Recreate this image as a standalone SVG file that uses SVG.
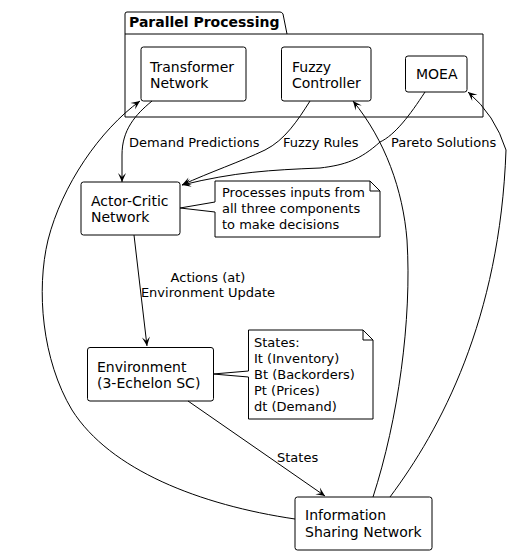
<svg xmlns="http://www.w3.org/2000/svg" width="514" height="555" viewBox="0 0 514 555">
<defs>
<marker id="arr" viewBox="-10 -5 11 10" refX="0" refY="0" markerWidth="11" markerHeight="10" markerUnits="userSpaceOnUse" orient="auto">
<path d="M0,0 L-9,-4 L-5,0 L-9,4 Z" fill="#000"/>
</marker>
<style>
.box{fill:#fff;stroke:#000;stroke-width:1}
.t{font-family:"DejaVu Sans",Verdana,sans-serif;font-size:14px;fill:#000}
.n{font-family:"DejaVu Sans",Verdana,sans-serif;font-size:13px;fill:#000}
.l{font-family:"DejaVu Sans",Verdana,sans-serif;font-size:13px;fill:#000}
.e{fill:none;stroke:#000;stroke-width:1}
</style>
</defs>
<rect width="514" height="555" fill="#fff"/>
<g id="package">
<path class="box" d="M127,12 L280,12 Q282,12 283,14 L287,34 L483,34 L483,117 L125,117 L125,14 Q125,12 127,12 Z"/>
<line x1="125" y1="34" x2="287" y2="34" stroke="#000"/>
<text x="129" y="27" class="t" font-weight="bold">Parallel Processing</text>
</g>
<g id="transformer">
<rect class="box" x="141" y="47" width="105" height="54" rx="2.5"/>
<text class="t" x="150" y="72">Transformer</text>
<text class="t" x="150" y="88">Network</text>
</g>
<g id="fuzzy">
<rect class="box" x="281.5" y="47" width="89.5" height="54" rx="2.5"/>
<text class="t" x="292" y="72">Fuzzy</text>
<text class="t" x="292" y="88">Controller</text>
</g>
<g id="moea">
<rect class="box" x="405.5" y="56" width="61.5" height="36" rx="2.5"/>
<text class="t" x="416" y="79">MOEA</text>
</g>
<g id="actorcritic">
<rect class="box" x="81" y="182" width="99" height="53" rx="2.5"/>
<text class="t" x="91" y="206">Actor-Critic</text>
<text class="t" x="91" y="222">Network</text>
</g>
<g id="note1">
<path class="box" d="M215,181 L370,181 L380,191 L380,237 L215,237 L215,212 L180,208 L215,202 Z"/>
<path class="e" d="M370,181 L370,191 L380,191"/>
<text class="n" x="222" y="197">Processes inputs from</text>
<text class="n" x="222" y="213">all three components</text>
<text class="n" x="222" y="229">to make decisions</text>
</g>
<g id="environment">
<rect class="box" x="87.5" y="347.5" width="126" height="53.5" rx="2.5"/>
<text class="t" x="97" y="372">Environment</text>
<text class="t" x="97" y="388">(3-Echelon SC)</text>
</g>
<g id="note2">
<path class="box" d="M248.5,330 L363,330 L373,340 L373,419 L248.5,419 L248.5,377 L213,374 L248.5,371 Z"/>
<path class="e" d="M363,330 L363,340 L373,340"/>
<text class="n" x="254" y="347">States:</text>
<text class="n" x="254" y="363">It (Inventory)</text>
<text class="n" x="254" y="379">Bt (Backorders)</text>
<text class="n" x="254" y="395">Pt (Prices)</text>
<text class="n" x="254" y="411">dt (Demand)</text>
</g>
<g id="infosharing">
<rect class="box" x="295" y="497" width="137" height="53" rx="2.5"/>
<text class="t" x="305" y="520">Information</text>
<text class="t" x="305" y="537">Sharing Network</text>
</g>
<g id="connectors">
<path class="e" marker-end="url(#arr)" d="M152,101 C135,115 122,130 122,155 L122,182"/>
<text class="l" x="129" y="147">Demand Predictions</text>
<path class="e" marker-end="url(#arr)" d="M310,101 C298,120 285,140 265,150 C240,162 210,172 182,185"/>
<text class="l" x="283" y="147">Fuzzy Rules</text>
<path class="e" marker-end="url(#arr)" d="M425,92 C410,115 395,135 380,142 C360,160 345,165 320,168 C270,170 235,172 182,185"/>
<text class="l" x="391" y="147">Pareto Solutions</text>
<path class="e" marker-end="url(#arr)" d="M134,235 L147,346"/>
<text class="l" x="208" y="282" text-anchor="middle">Actions (at)</text>
<text class="l" x="208" y="297" text-anchor="middle">Environment Update</text>
<path class="e" marker-end="url(#arr)" d="M188,401 L325,496"/>
<text class="l" x="277" y="462">States</text>
<path class="e" marker-end="url(#arr)" d="M295,519 C200,505 110,470 72,410 C42,360 36,290 48,240 C62,185 100,130 140,101"/>
<path class="e" marker-end="url(#arr)" d="M373,497 C398,420 412,320 407,240 C403,190 385,140 353,101"/>
<path class="e" marker-end="url(#arr)" d="M390,497 C440,430 500,320 506,150 Q495,115 468,92"/>
</g>
</svg>
